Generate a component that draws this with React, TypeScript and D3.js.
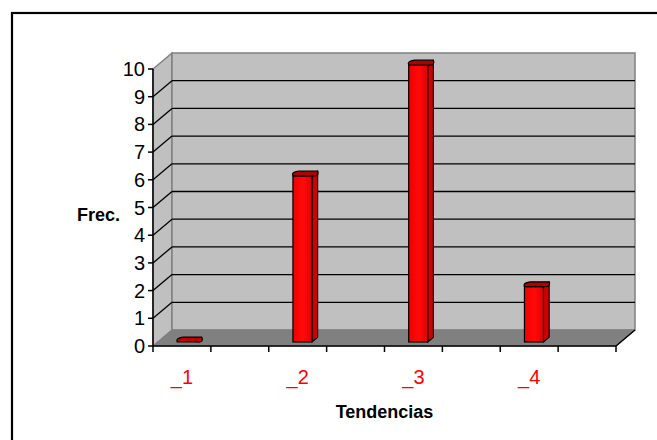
import React, { useEffect, useRef } from 'react'
import * as d3 from 'd3'

// Data
const categories = ['_1', '_2', '_3', '_4']
const values = [0, 6, 10, 2]
const yTicks = [0, 1, 2, 3, 4, 5, 6, 7, 8, 9, 10]

const width = 657
const height = 440

export default function App() {
    const ref = useRef<SVGSVGElement>(null)

    useEffect(() => {
        const svg = d3.select(ref.current)
        svg.selectAll('*').remove()

        // plot frame (front plane) and depth offset of the 3D box
        const left = 153
        const right = 616
        const bottom = 346
        const top = 69
        const DX = 19
        const DY = -16

        const x = d3.scaleBand<string>().domain(categories).range([left, right])
        const y = d3.scaleLinear().domain([0, 10]).range([bottom, top])
        const bw = x.bandwidth()

        const defs = svg.append('defs')
        const grad = defs.append('linearGradient').attr('id', 'barFront')
        grad.append('stop').attr('offset', '0%').attr('stop-color', '#f00000')
        grad.append('stop').attr('offset', '55%').attr('stop-color', '#ff0a0a')
        grad.append('stop').attr('offset', '100%').attr('stop-color', '#e00000')

        // outer border
        svg.append('rect')
            .attr('x', 12).attr('y', 13)
            .attr('width', 660).attr('height', 440)
            .attr('fill', '#fff')
            .attr('stroke', '#000')
            .attr('stroke-width', 2.2)

        const pts = (p: number[][]) => p.map(d => d.join(',')).join(' ')

        // left wall
        svg.append('polygon')
            .attr('points', pts([[left, top], [left + DX, top + DY], [left + DX, bottom + DY], [left, bottom]]))
            .attr('fill', '#c0c0c0')
            .attr('stroke', '#808080')
            .attr('stroke-width', 1.5)

        // back wall
        svg.append('rect')
            .attr('x', left + DX).attr('y', top + DY)
            .attr('width', right - left).attr('height', bottom - top)
            .attr('fill', '#c0c0c0')
            .attr('stroke', '#808080')
            .attr('stroke-width', 1.5)

        // floor
        svg.append('polygon')
            .attr('points', pts([[left, bottom], [left + DX, bottom + DY], [right + DX, bottom + DY], [right, bottom]]))
            .attr('fill', '#808080')
            .attr('stroke', '#808080')
            .attr('stroke-width', 1)

        // gridlines
        yTicks.filter(v => v > 0 && v < 10).forEach(v => {
            svg.append('line')
                .attr('x1', left + DX).attr('x2', right + DX)
                .attr('y1', y(v) + DY).attr('y2', y(v) + DY)
                .attr('stroke', '#000').attr('stroke-width', 1.3)
            svg.append('line')
                .attr('x1', left).attr('x2', left + DX)
                .attr('y1', y(v)).attr('y2', y(v) + DY)
                .attr('stroke', '#000').attr('stroke-width', 1.3)
        })

        // bars
        const f0 = 0.25
        const f1 = 0.55
        const barW = 19
        const sx = DX * (f1 - f0)
        const sy = DY * (f1 - f0)
        categories.forEach((c, i) => {
            const v = values[i]
            const cx = (x(c) as number) + bw / 4 + DX * f0
            const x0 = cx - barW / 2
            const x1 = cx + barW / 2
            const yb = y(0) + DY * f0
            const yt = y(v) + DY * f0

            if (v > 0) {
                // side
                svg.append('polygon')
                    .attr('points', pts([[x1, yt], [x1 + sx, yt + sy], [x1 + sx, yb + sy], [x1, yb]]))
                    .attr('fill', '#d00000')
                    .attr('stroke', '#000').attr('stroke-width', 1.2)
                    .attr('stroke-linejoin', 'round')
                // front
                svg.append('rect')
                    .attr('x', x0).attr('y', yt)
                    .attr('width', barW).attr('height', yb - yt)
                    .attr('fill', 'url(#barFront)')
                    .attr('stroke', '#000').attr('stroke-width', 1.2)
            }
            // top
            svg.append('path')
                .attr('d', `M${x0},${yt} L${x1},${yt} Q${x1 + sx + 2},${yt + 1} ${x1 + sx},${yt + sy} L${x0 + sx},${yt + sy} Q${x0 - 2},${yt + sy + 1} ${x0},${yt} Z`)
                .attr('fill', v > 0 ? '#b00000' : '#c00000')
                .attr('stroke', '#000').attr('stroke-width', 1.2)
                .attr('stroke-linejoin', 'round')
        })

        // y axis
        svg.append('line')
            .attr('x1', left).attr('x2', left)
            .attr('y1', top).attr('y2', bottom)
            .attr('stroke', '#000').attr('stroke-width', 1.5)
        yTicks.forEach(v => {
            svg.append('line')
                .attr('x1', left - 5).attr('x2', left)
                .attr('y1', y(v)).attr('y2', y(v))
                .attr('stroke', '#000').attr('stroke-width', 1.5)
            svg.append('text')
                .text(v)
                .attr('x', left - 8)
                .attr('y', y(v) + 7)
                .attr('text-anchor', 'end')
                .attr('font-family', 'Liberation Sans, Arial, sans-serif')
                .attr('font-size', '20px')
                .attr('fill', '#000')
        })

        // x axis
        svg.append('line')
            .attr('x1', left).attr('x2', right)
            .attr('y1', bottom).attr('y2', bottom)
            .attr('stroke', '#000').attr('stroke-width', 1.5)
        svg.append('line')
            .attr('x1', right).attr('x2', right + DX)
            .attr('y1', bottom).attr('y2', bottom + DY)
            .attr('stroke', '#000').attr('stroke-width', 1.5)
        const tickXs: number[] = []
        categories.forEach(c => {
            tickXs.push(x(c) as number, (x(c) as number) + bw / 2)
        })
        tickXs.push(right)
        tickXs.forEach(tx => {
            svg.append('line')
                .attr('x1', tx).attr('x2', tx)
                .attr('y1', bottom).attr('y2', bottom + 6)
                .attr('stroke', '#000').attr('stroke-width', 1.5)
        })
        categories.forEach(c => {
            svg.append('text')
                .text(c)
                .attr('x', (x(c) as number) + bw / 4)
                .attr('y', 384)
                .attr('text-anchor', 'middle')
                .attr('font-family', 'Liberation Sans, Arial, sans-serif')
                .attr('font-size', '20px')
                .attr('fill', '#ff0000')
        })

        // axis titles
        svg.append('text')
            .text('Tendencias')
            .attr('x', (left + right) / 2)
            .attr('y', 418)
            .attr('text-anchor', 'middle')
            .attr('font-family', 'Liberation Sans, Arial, sans-serif')
            .attr('font-size', '18px')
            .attr('font-weight', 'bold')
            .attr('fill', '#000')
        svg.append('text')
            .text('Frec.')
            .attr('x', 120)
            .attr('y', 221)
            .attr('text-anchor', 'end')
            .attr('font-family', 'Liberation Sans, Arial, sans-serif')
            .attr('font-size', '18px')
            .attr('font-weight', 'bold')
            .attr('fill', '#000')
    }, [])

    return (
        <svg ref={ref} width={width} height={height}
            style={{ position: 'absolute', left: 0, top: 0, display: 'block' }} />
    )
}
